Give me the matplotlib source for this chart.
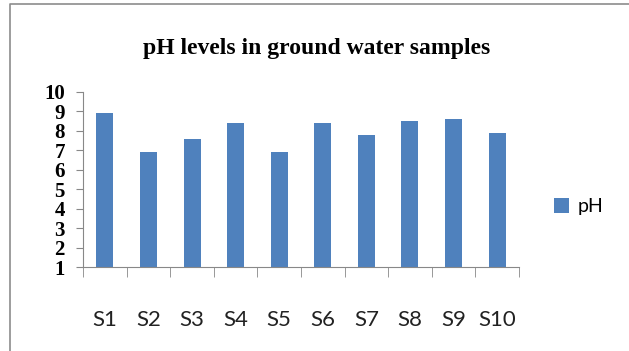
import matplotlib.pyplot as plt
from matplotlib.lines import Line2D
import numpy as np

samples = ["S1", "S2", "S3", "S4", "S5", "S6", "S7", "S8", "S9", "S10"]
ph = [8.9, 6.9, 7.6, 8.4, 6.9, 8.4, 7.8, 8.5, 8.6, 7.9]
y_ticks = [1, 2, 3, 4, 5, 6, 7, 8, 9, 10]

fig = plt.figure(figsize=(6.29, 3.51), dpi=100)

# chart border (only left and top edges show in the crop)
bx = 10 / 629
by = 1 - 4 / 351
fig.lines.append(Line2D([bx, bx, 1.0], [0.0, by, by], transform=fig.transFigure,
                        color="#8c8c8c", linewidth=1.2))

ax = fig.add_axes([0.132, 0.239, 0.693, 0.499])
x = np.arange(len(samples))
ax.bar(x, ph, width=0.39, color="#4F81BD", label="pH")

ax.set_xlim(-0.5, len(samples) - 0.5)
ax.set_ylim(1, 10)
ax.set_yticks(y_ticks)
ax.set_yticklabels([str(v) for v in y_ticks], fontfamily="Liberation Serif",
                   fontsize=15, fontweight="bold")

ax.set_xticks(x)
ax.set_xticklabels(samples, fontfamily="Lato", fontsize=16, color="#222222")
ax.set_xticks(np.arange(-0.5, len(samples)), minor=True)
ax.tick_params(axis="x", which="major", length=0, pad=31)
ax.tick_params(axis="x", which="minor", length=7, color="#888888", direction="out")
ax.tick_params(axis="y", length=5, color="#888888", pad=8)

for side in ["top", "right"]:
    ax.spines[side].set_visible(False)
for side in ["left", "bottom"]:
    ax.spines[side].set_color("#888888")

fig.text(0.503, 0.862, "pH levels in ground water samples", ha="center", va="center",
         fontfamily="Liberation Serif", fontweight="bold", fontsize=17)

ax.legend(loc="center left", bbox_to_anchor=(1.04, 0.345), frameon=False,
          prop={"family": "Lato", "size": 14}, handlelength=0.8, handleheight=0.8,
          handletextpad=0.4)

fig.savefig("out.png", dpi=100)
